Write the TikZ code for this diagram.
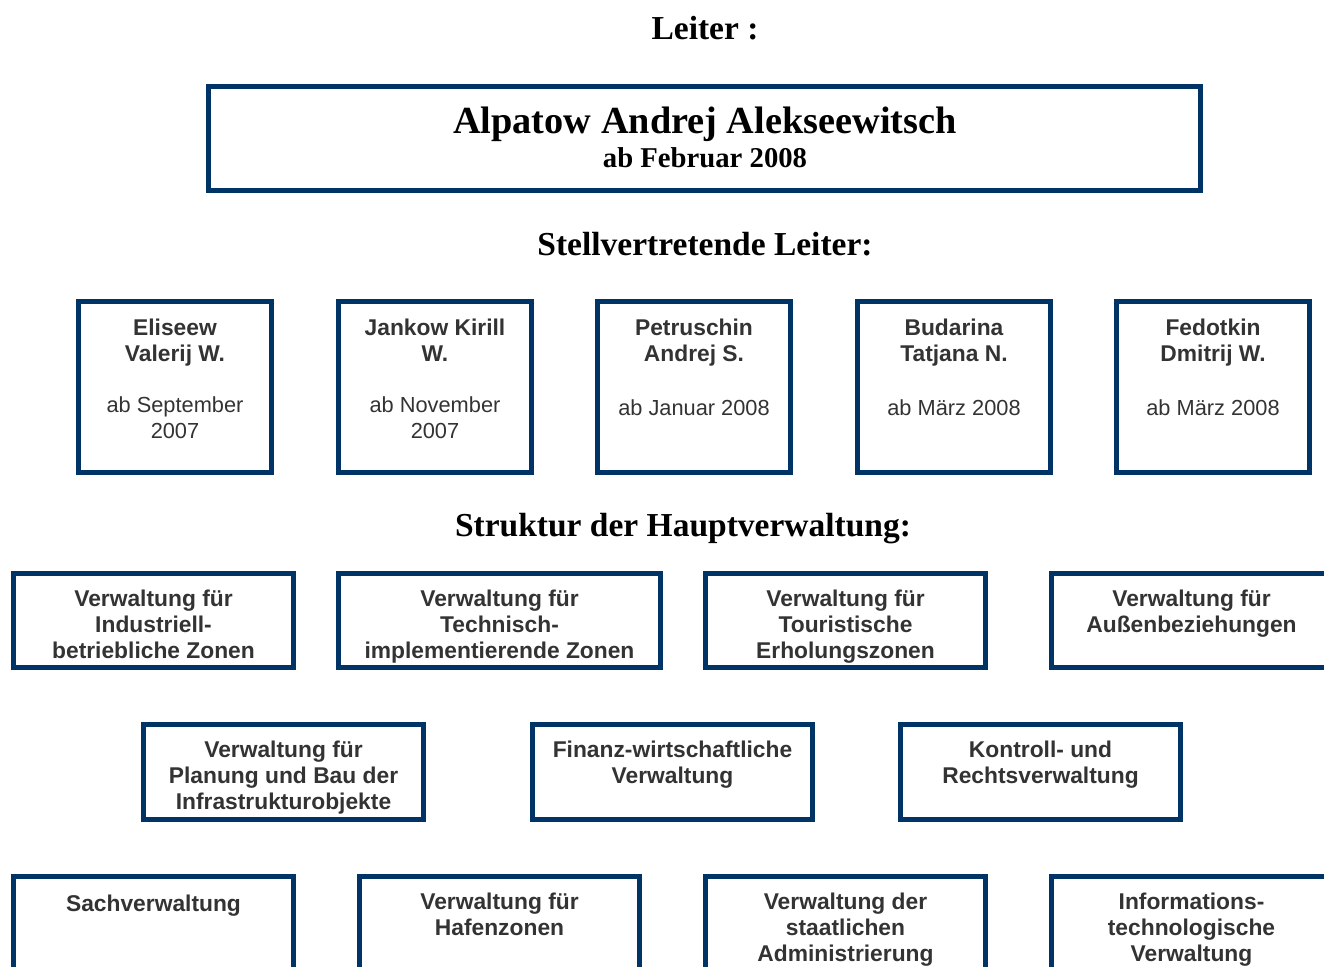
\documentclass[tikz,border=0pt]{standalone}
\usepackage{fontspec}
\setmainfont{Liberation Serif}
\setsansfont{Liberation Sans}
\definecolor{boxblue}{RGB}{0,51,102}
\definecolor{textgrey}{RGB}{51,51,51}
\tikzset{
	box/.style={draw=boxblue, line width=5pt, inner sep=0pt},
	heading/.style={font=\bfseries\fontsize{33.5}{40}\selectfont, anchor=base, inner sep=0pt},
	entry/.style={font=\sffamily\bfseries\fontsize{22.8}{26}\selectfont, text=textgrey, align=center,
		anchor=north, yshift=18.2pt, inner sep=0pt, execute at begin node={\strut}},
	dateline/.style={entry, font=\sffamily\mdseries\fontsize{21.8}{26}\selectfont}
}

\begin{document}
\begin{tikzpicture}[x=1pt, y=-1pt]
			%%%%% START %%%%%
			\useasboundingbox (0,0) rectangle (1324,966);
			
			\node[heading] (leitertitle) at (705, 40) {Leiter :};
			
			\node[box, minimum width=992pt, minimum height=104pt] (leiter) at (704.5, 138.5) {};
			\node[heading, font=\bfseries\fontsize{38.3}{44}\selectfont] (leitername) at (705, 133) {Alpatow Andrej Alekseewitsch};
			\node[heading, font=\bfseries\fontsize{28.7}{34}\selectfont] (leiterdate) at (705, 167) {ab Februar 2008};
			
			\node[heading] (svtitle) at (705, 255) {Stellvertretende Leiter:};
			
			\node[box, minimum width=193pt, minimum height=171pt] (sv1) at (175, 387) {};
			\node[box, minimum width=193pt, minimum height=171pt] (sv2) at (435, 387) {};
			\node[box, minimum width=193pt, minimum height=171pt] (sv3) at (694, 387) {};
			\node[box, minimum width=193pt, minimum height=171pt] (sv4) at (954, 387) {};
			\node[box, minimum width=193pt, minimum height=171pt] (sv5) at (1213, 387) {};
			
			\node[entry] (sv1name) at (175, 337) {Eliseew\\Valerij W.};
			\node[dateline] (sv1date) at (175, 415) {ab September\\2007};
			\node[entry] (sv2name) at (435, 337) {Jankow Kirill\\W.};
			\node[dateline] (sv2date) at (435, 415) {ab November\\2007};
			\node[entry] (sv3name) at (694, 337) {Petruschin\\Andrej S.};
			\node[dateline] (sv3date) at (694, 415) {ab Januar 2008};
			\node[entry] (sv4name) at (954, 337) {Budarina\\Tatjana N.};
			\node[dateline] (sv4date) at (954, 415) {ab März 2008};
			\node[entry] (sv5name) at (1213, 337) {Fedotkin\\Dmitrij W.};
			\node[dateline] (sv5date) at (1213, 415) {ab März 2008};
			
			\node[heading] (strukturtitle) at (683, 536) {Struktur der Hauptverwaltung:};
			
			\node[box, minimum width=280pt, minimum height=94pt] (vw1) at (153.5, 620.5) {};
			\node[box, minimum width=322pt, minimum height=94pt] (vw2) at (499.5, 620.5) {};
			\node[box, minimum width=280pt, minimum height=94pt] (vw3) at (845.5, 620.5) {};
			\node[box, minimum width=280pt, minimum height=94pt] (vw4) at (1191.5, 620.5) {};
			
			\node[entry] (vw1text) at (153.5, 608) {Verwaltung für\\Industriell-\\betriebliche Zonen};
			\node[entry] (vw2text) at (499.5, 608) {Verwaltung für\\Technisch-\\implementierende Zonen};
			\node[entry] (vw3text) at (845.5, 608) {Verwaltung für\\Touristische\\Erholungszonen};
			\node[entry] (vw4text) at (1191.5, 608) {Verwaltung für\\Außenbeziehungen};
			
			\node[box, minimum width=280pt, minimum height=95pt] (vw5) at (283.5, 772) {};
			\node[box, minimum width=280pt, minimum height=95pt] (vw6) at (672.5, 772) {};
			\node[box, minimum width=280pt, minimum height=95pt] (vw7) at (1040.5, 772) {};
			
			\node[entry] (vw5text) at (283.5, 759) {Verwaltung für\\Planung und Bau der\\Infrastrukturobjekte};
			\node[entry] (vw6text) at (672.5, 759) {Finanz-wirtschaftliche\\Verwaltung};
			\node[entry] (vw7text) at (1040.5, 759) {Kontroll- und\\Rechtsverwaltung};
			
			\node[box, minimum width=280pt, minimum height=95pt] (vw8) at (153.5, 924) {};
			\node[box, minimum width=280pt, minimum height=95pt] (vw9) at (499.5, 924) {};
			\node[box, minimum width=280pt, minimum height=95pt] (vw10) at (845.5, 924) {};
			\node[box, minimum width=280pt, minimum height=95pt] (vw11) at (1191.5, 924) {};
			
			\node[entry] (vw8text) at (153.5, 911) {Sachverwaltung};
			\node[entry] (vw9text) at (499.5, 911) {Verwaltung für\\Hafenzonen};
			\node[entry] (vw10text) at (845.5, 911) {Verwaltung der\\staatlichen\\Administrierung};
			\node[entry] (vw11text) at (1191.5, 911) {Informations-\\technologische\\Verwaltung};
			
			%%%%% END %%%%%
\end{tikzpicture}
\end{document}
